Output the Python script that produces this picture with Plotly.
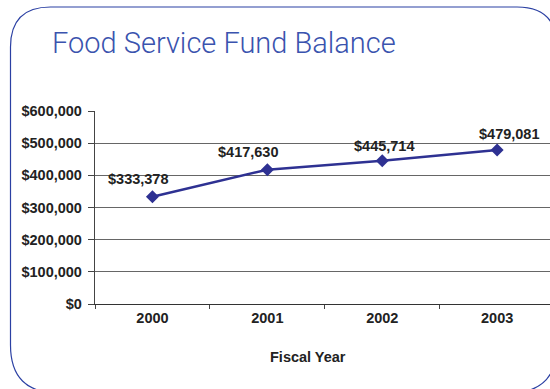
import plotly.graph_objects as go

# Fund balance by fiscal year
years = ["2000", "2001", "2002", "2003"]
balances = [333378, 417630, 445714, 479081]
balance_labels = ["$333,378", "$417,630", "$445,714", "$479,081"]
y_ticks = [0, 100000, 200000, 300000, 400000, 500000, 600000]
y_tick_labels = ["$0", "$100,000", "$200,000", "$300,000", "$400,000", "$500,000", "$600,000"]

# label nudges (px) relative to each point
label_dx = [-14, -19, 2, 12]
label_dy = [18, 18, 15, 16]

W, H = 550, 389
ML, MR, MT, MB = 95, 0, 111, 85
PW = W - ML - MR
PH = H - MT - MB

LINE = "#2E3192"
TEXT = "#222222"
BOLD = dict(family="Liberation Sans, Arial, sans-serif", size=14.5, color=TEXT, weight="bold")


def px(x):
    return (x - ML) / PW


def py(y):
    return (H - MB - y) / PH


fig = go.Figure()
fig.add_trace(go.Scatter(
    x=years, y=balances, mode="lines+markers",
    line=dict(color=LINE, width=2.5),
    marker=dict(symbol="diamond", size=10, color=LINE),
    hoverinfo="skip", showlegend=False,
))

# value labels; category axes take the category index for annotations
for i, (v, t, dx, dy) in enumerate(zip(balances, balance_labels, label_dx, label_dy)):
    fig.add_annotation(x=i, y=v, xref="x", yref="y", text=t, showarrow=False,
                       xshift=dx, yshift=dy, font=BOLD)

# axis title
fig.add_annotation(x=px(308), y=py(357), xref="paper", yref="paper", text="Fiscal Year",
                   showarrow=False, font=BOLD, xanchor="center", yanchor="middle")

# page title
fig.add_annotation(x=px(50), y=py(43), xref="paper", yref="paper",
                   text="Food Service Fund Balance", showarrow=False,
                   xanchor="left", yanchor="middle",
                   font=dict(family="Roboto, Lato, sans-serif", size=29, color="#3A53AE", weight=300))

# rounded frame around the slide panel
x0, x1, y0, y1 = 10.5, 557, 7, 393
r_tl, r_tr, r_bl, r_br = 40, 40, 48, 48
path = (
    f"M {px(x0 + r_tl)} {py(y0)} L {px(x1 - r_tr)} {py(y0)} "
    f"Q {px(x1)} {py(y0)} {px(x1)} {py(y0 + r_tr)} "
    f"L {px(x1)} {py(y1 - r_br)} Q {px(x1)} {py(y1)} {px(x1 - r_br)} {py(y1)} "
    f"L {px(x0 + r_bl)} {py(y1)} Q {px(x0)} {py(y1)} {px(x0)} {py(y1 - r_bl)} "
    f"L {px(x0)} {py(y0 + r_tl)} Q {px(x0)} {py(y0)} {px(x0 + r_tl)} {py(y0)} Z"
)
fig.add_shape(type="path", path=path, xref="paper", yref="paper",
              line=dict(color="#2B40A3", width=1.2), layer="above")

fig.update_layout(
    width=W, height=H,
    margin=dict(l=ML, r=MR, t=MT, b=MB, pad=0),
    paper_bgcolor="white", plot_bgcolor="white",
    xaxis=dict(
        type="category", range=[-0.5, 3.46], tickson="boundaries",
        ticks="outside", ticklen=4, tickcolor="#444", tickwidth=1,
        showline=True, linecolor="#333", linewidth=1.3,
        showgrid=False, zeroline=False, tickfont=BOLD,
    ),
    yaxis=dict(
        range=[0, 600000], tickvals=y_ticks, ticktext=y_tick_labels,
        ticks="outside", ticklen=6, tickcolor="#444", tickwidth=1,
        showline=True, linecolor="#444", linewidth=1.3,
        showgrid=True, gridcolor="#666", gridwidth=1,
        zeroline=False, tickfont=BOLD, ticklabelstandoff=3,
    ),
)

fig.write_html("out.html")
